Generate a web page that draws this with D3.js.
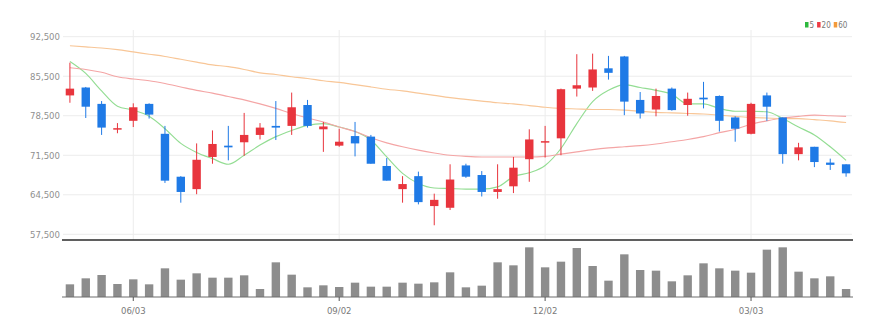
<!DOCTYPE html>
<html>
<head>
<meta charset="utf-8">
<script src="https://cdn.jsdelivr.net/npm/d3@7"></script>
<style>
  html, body { margin: 0; padding: 0; background: #fff; }
  svg { display: block; font-family: "Liberation Sans Narrow", "DejaVu Sans Condensed", "Arial Narrow", sans-serif; }
</style>
</head>
<body>
<svg id="chart" width="890" height="334"></svg>
<script>
// Weekly candles
const dates = [
  "2024-05-06","2024-05-13","2024-05-20","2024-05-27","2024-06-03","2024-06-10","2024-06-17","2024-06-24",
  "2024-07-01","2024-07-08","2024-07-15","2024-07-22","2024-07-29","2024-08-05","2024-08-12","2024-08-19",
  "2024-08-26","2024-09-02","2024-09-09","2024-09-16","2024-09-23","2024-09-30","2024-10-07","2024-10-14",
  "2024-10-21","2024-10-28","2024-11-04","2024-11-11","2024-11-18","2024-11-25","2024-12-02","2024-12-09",
  "2024-12-16","2024-12-23","2024-12-30","2025-01-06","2025-01-13","2025-01-20","2025-01-27","2025-02-03",
  "2025-02-10","2025-02-17","2025-02-24","2025-03-03","2025-03-10","2025-03-17","2025-03-24","2025-03-31",
  "2025-04-07","2025-04-14"
];
const opens = [82100,83500,80600,76100,77600,80600,75300,67700,65500,71200,73200,73800,75100,76700,76700,80400,
  76100,73200,74900,74800,69600,65500,67800,62500,62200,69700,68000,65000,66000,70800,73800,74500,83300,83500,
  86900,89000,81300,79600,83300,80400,81700,82000,78200,75300,82100,78200,71700,73000,70200,69900];
const highs = [87900,83600,81100,77200,80700,80700,76700,67800,73600,75900,76700,79000,77200,81100,82600,81300,
  77400,76200,77400,75100,71000,67800,68600,64700,69900,70000,68700,69900,71200,76100,76700,83300,89400,89500,
  89100,89100,82700,83300,83500,82600,84500,82100,78400,80800,82600,78200,73700,73000,70900,69900];
const lows = [80800,78100,75100,75400,76500,78000,66600,63100,64600,70000,70600,71400,74300,74200,75100,76400,
  72100,73000,71300,70000,67000,63100,62800,59100,61800,67500,64200,63800,64800,66800,71100,71500,81900,82900,
  84900,78600,78000,78400,79400,78500,79800,75700,73900,75200,77600,70000,70600,69400,68900,67700];
const closes = [83300,80100,76400,76300,80000,78700,67000,65000,70700,73500,72900,75100,76400,76400,80000,76700,
  76600,73900,73600,70000,67000,66400,63200,63600,67200,67700,65000,65500,69300,74300,74000,83200,83900,86700,
  86100,81000,78900,82000,79500,81500,81400,77600,76200,80600,80100,71700,72900,70300,69800,68300];
const volumes = [38000,56000,66000,39000,53000,38000,86000,52000,71000,58000,58000,65000,24000,104000,67000,29000,
  35000,30000,43000,31000,31000,43000,40000,44000,74000,29000,34000,104000,95000,149000,89000,106000,147000,93000,
  49000,128000,81000,79000,47000,65000,101000,86000,79000,73000,142000,149000,76000,56000,62000,24000];

// Moving averages
const ma5 = [88100,86000,82900,80200,79500,78400,76200,73600,72000,70900,69900,71500,73300,74800,75900,76800,
  77100,76500,75700,74200,71200,68300,66500,65700,65600,65500,65500,65900,67700,68400,69700,72700,77100,81000,
  83000,84000,83500,83000,82300,80600,80600,79800,79300,79300,79200,78000,76500,75100,73000,70600];
const ma20 = [87000,86700,86200,85400,85000,84700,84200,83600,83000,82500,81900,81300,80600,79800,78900,78100,
  77400,76500,75700,74600,73700,73000,72400,71900,71500,71300,71200,71200,71200,71200,71300,71700,72100,72500,
  72800,73000,73200,73500,73900,74300,74800,75500,76100,77000,77600,78100,78400,78600,78500,78400];
const ma60 = [90900,90700,90500,90200,89800,89400,89000,88500,88000,87500,87200,86700,86100,85800,85400,85100,
  84700,84400,84000,83600,83200,82900,82500,82100,81700,81400,81100,80800,80600,80300,80000,79800,79700,79600,
  79600,79500,79300,79100,79000,78900,78800,78600,78400,78200,78100,78000,78000,77800,77600,77300];

const maNames = ["5", "20", "60"];
const maColors = ["#93dd93", "#f4a5a5", "#f8c697"];
const legendColors = ["#2db83d", "#ee3b45", "#f39a3a"];

const yTicks = [57500, 64500, 71500, 78500, 85500, 92500];
const xTickDates = ["2024-06-03", "2024-09-02", "2024-12-02", "2025-03-03"];

const upColor = "#e8353d";
const downColor = "#1f7ae6";

const svg = d3.select("#chart");
const left = 62, right = 853;
const priceBottom = 240, volBase = 297;

const x = d3.scaleBand().domain(dates).range([left, right + 1])
  .paddingInner(0.47).paddingOuter(0.235);
const cx = d => x(d) + x.bandwidth() / 2;
const y = d3.scaleLinear().domain([57500, 92500]).range([234.3, 36.7]);
const yv = d3.scaleLinear().domain([0, 150000]).range([volBase, 247]);

// Grid
const grid = svg.append("g");
grid.selectAll("line.h").data(yTicks).join("line")
  .attr("x1", left + 1).attr("x2", right - 1)
  .attr("y1", d => y(d)).attr("y2", d => y(d))
  .attr("stroke", "#ececec").attr("stroke-width", 1);
grid.selectAll("line.v").data(xTickDates).join("line")
  .attr("x1", d => cx(d)).attr("x2", d => cx(d))
  .attr("y1", 30).attr("y2", priceBottom)
  .attr("stroke", "#ececec").attr("stroke-width", 1);

// Price axis labels
const fmt = d3.format(",");
svg.append("g").selectAll("text").data(yTicks).join("text")
  .attr("x", 60).attr("y", d => y(d)).attr("dy", "0.35em")
  .attr("text-anchor", "end").attr("font-size", "9.5px").attr("fill", "#8f8f8f")
  .text(d => fmt(d));

// Moving average lines
const maSeries = [ma5, ma20, ma60];
const line = d3.line().x((v, i) => cx(dates[i])).y(v => y(v)).curve(d3.curveMonotoneX);
svg.append("g").selectAll("path").data(maSeries).join("path")
  .attr("d", d => line(d))
  .attr("fill", "none")
  .attr("stroke", (d, i) => maColors[i])
  .attr("stroke-width", 1.15);

// Candles
const candles = dates.map((d, i) => ({ d, o: opens[i], h: highs[i], l: lows[i], c: closes[i] }));
const cg = svg.append("g").selectAll("g").data(candles).join("g");
cg.append("line")
  .attr("x1", k => cx(k.d)).attr("x2", k => cx(k.d))
  .attr("y1", k => y(k.h)).attr("y2", k => y(k.l))
  .attr("stroke", k => k.c >= k.o ? upColor : downColor).attr("stroke-width", 1);
cg.append("rect")
  .attr("x", k => x(k.d)).attr("width", x.bandwidth())
  .attr("y", k => y(Math.max(k.o, k.c)))
  .attr("height", k => Math.max(1.5, Math.abs(y(k.o) - y(k.c))))
  .attr("fill", k => k.c >= k.o ? upColor : downColor);

// Price panel bottom rule
svg.append("line").attr("x1", left).attr("x2", right)
  .attr("y1", priceBottom).attr("y2", priceBottom)
  .attr("stroke", "#2a2a2a").attr("stroke-width", 1.6);

// Volume bars
svg.append("g").selectAll("rect").data(dates).join("rect")
  .attr("x", d => x(d)).attr("width", x.bandwidth())
  .attr("y", (d, i) => yv(volumes[i]))
  .attr("height", (d, i) => volBase - yv(volumes[i]))
  .attr("fill", "#8d8d8d");

svg.append("line").attr("x1", left).attr("x2", right)
  .attr("y1", volBase).attr("y2", volBase)
  .attr("stroke", "#6e6e6e").attr("stroke-width", 1.2);

// Date axis
const xa = svg.append("g");
xa.selectAll("line").data(xTickDates).join("line")
  .attr("x1", d => cx(d)).attr("x2", d => cx(d))
  .attr("y1", volBase).attr("y2", volBase + 4)
  .attr("stroke", "#555");
const dFmt = d3.timeFormat("%m/%d");
const parse = d3.timeParse("%Y-%m-%d");
xa.selectAll("text").data(xTickDates).join("text")
  .attr("x", d => cx(d)).attr("y", 311).attr("dy", "0.35em")
  .attr("text-anchor", "middle").attr("font-size", "9.5px").attr("fill", "#7a7a7a")
  .text(d => dFmt(parse(d)));

// Legend
const lg = svg.append("g").attr("transform", "translate(805,22)");
let off = 0;
maNames.forEach((name, i) => {
  const item = lg.append("g").attr("transform", `translate(${off},0)`);
  item.append("rect").attr("x", 0).attr("y", 0).attr("width", 3.5).attr("height", 5.5)
    .attr("fill", legendColors[i]);
  const t = item.append("text").attr("x", 4.5).attr("y", 5.5)
    .attr("font-size", "8px").attr("fill", "#777").text(name);
  off += 4.5 + t.node().getComputedTextLength() + 3;
});
</script>
</body>
</html>
